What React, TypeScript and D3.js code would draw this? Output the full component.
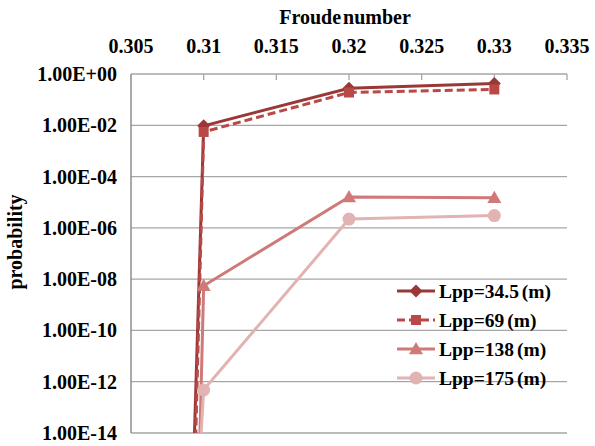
import React from "react";
import * as d3 from "d3";

const froude = [0.309, 0.31, 0.32, 0.33];
const lpp34 = [1e-21, 9.5e-3, 0.28, 0.43];
const lpp69 = [1e-24, 5.5e-3, 0.19, 0.25];
const lpp138 = [1e-31, 5.5e-9, 1.6e-5, 1.5e-5];
const lpp175 = [1e-22, 4.8e-13, 2.2e-6, 3e-6];
const xTicks = [0.305, 0.31, 0.315, 0.32, 0.325, 0.33, 0.335];
const xTickLabels = ["0.305", "0.31", "0.315", "0.32", "0.325", "0.33", "0.335"];
const yTicks = [1, 1e-2, 1e-4, 1e-6, 1e-8, 1e-10, 1e-12, 1e-14];
const yTickLabels = ["1.00E+00", "1.00E-02", "1.00E-04", "1.00E-06", "1.00E-08", "1.00E-10", "1.00E-12", "1.00E-14"];

const seriesNames = ["Lpp=34.5 (m)", "Lpp=69 (m)", "Lpp=138 (m)", "Lpp=175 (m)"];
const seriesValues = [lpp34, lpp69, lpp138, lpp175];
const colors = ["#9a3837", "#b94947", "#cf7978", "#e1b3b2"];
const markers = ["diamond", "square", "triangle", "circle"];

const W = 595, H = 446;
const L = 131, R = 567, T = 74, B = 433;
const textStyle: React.CSSProperties = {
  fontFamily: '"Liberation Serif", "Times New Roman", serif',
  fontWeight: 700,
  fontSize: "20px",
};

function Marker({ type, x, y, color }: { type: string; x: number; y: number; color: string }) {
  if (type === "diamond") {
    const s = 6.5;
    return <path d={`M${x},${y - s}L${x + s},${y}L${x},${y + s}L${x - s},${y}Z`} fill={color} />;
  }
  if (type === "square") {
    return <rect x={x - 5} y={y - 5} width={10} height={10} fill={color} />;
  }
  if (type === "triangle") {
    const s = 7;
    return <path d={`M${x},${y - s}L${x + s},${y + s * 0.75}L${x - s},${y + s * 0.75}Z`} fill={color} />;
  }
  return <circle cx={x} cy={y} r={6.5} fill={color} />;
}

export default function App() {
  const x = d3.scaleLinear().domain([0.305, 0.335]).range([L, R]);
  const y = d3.scaleLog().domain([1e-14, 1]).range([B, T]);
  const line = d3
    .line<[number, number]>()
    .x((d) => x(d[0]))
    .y((d) => y(d[1]));

  const legendY = [291, 320, 349, 378];

  return (
    <svg width={W} height={H} style={{ position: "absolute", left: 0, top: 0 }}>
      <defs>
        <clipPath id="plotClip">
          <rect x={L} y={T - 10} width={R - L} height={B - T + 10} />
        </clipPath>
      </defs>
      <rect width={W} height={H} fill="#fff" />
      {yTicks.map((t, i) =>
        i === 0 ? null : (
          <line key={i} x1={L} x2={R} y1={y(t)} y2={y(t)} stroke="#a6a6a6" strokeWidth={1.3} />
        )
      )}
      <line x1={L} x2={R} y1={T} y2={T} stroke="#a6a6a6" strokeWidth={1.3} />
      <line x1={L} x2={L} y1={T} y2={B} stroke="#8c8c8c" strokeWidth={1.5} />
      {xTicks.map((t, i) => (
        <line key={i} x1={x(t)} x2={x(t)} y1={T} y2={T + 6} stroke="#a6a6a6" strokeWidth={1.3} />
      ))}
      {xTicks.map((t, i) => (
        <text key={i} x={x(t)} y={53} textAnchor="middle" style={textStyle}>
          {xTickLabels[i]}
        </text>
      ))}
      {yTicks.map((t, i) => (
        <text key={i} x={117} y={y(t) + 7} textAnchor="end" style={textStyle}>
          {yTickLabels[i]}
        </text>
      ))}
      <text x={345} y={24} textAnchor="middle" style={{ ...textStyle, wordSpacing: "-3px" }}>
        Froude number
      </text>
      <text transform={`translate(22,242) rotate(-90)`} textAnchor="middle" style={textStyle}>
        probability
      </text>
      <g clipPath="url(#plotClip)">
        {seriesValues.map((vals, si) => (
          <path
            key={si}
            d={line(froude.map((f, i) => [f, vals[i]] as [number, number])) || ""}
            fill="none"
            stroke={colors[si]}
            strokeWidth={3}
            strokeDasharray={si === 1 ? "8,4" : undefined}
          />
        ))}
        {seriesValues.map((vals, si) =>
          froude.map((f, i) =>
            vals[i] >= 1e-14 ? (
              <Marker key={`${si}-${i}`} type={markers[si]} x={x(f)} y={y(vals[i])} color={colors[si]} />
            ) : null
          )
        )}
      </g>
      {seriesNames.map((n, si) => (
        <g key={si}>
          <line
            x1={397}
            x2={435}
            y1={legendY[si]}
            y2={legendY[si]}
            stroke={colors[si]}
            strokeWidth={3}
            strokeDasharray={si === 1 ? "8,4" : undefined}
          />
          <Marker type={markers[si]} x={416} y={legendY[si]} color={colors[si]} />
          <text x={439} y={legendY[si] + 7} style={{ ...textStyle, fontSize: "19.5px", wordSpacing: "-2px" }}>
            {n}
          </text>
        </g>
      ))}
    </svg>
  );
}
